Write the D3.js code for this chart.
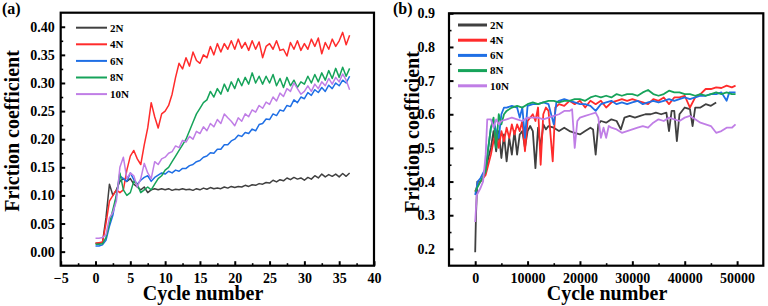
<!DOCTYPE html>
<html>
<head>
<meta charset="utf-8">
<script src="https://cdn.jsdelivr.net/npm/d3@7"></script>
<style>
  body { margin: 0; background: #fff; }
</style>
</head>
<body>
<svg id="chart" width="768" height="306"></svg>
<script>
// ---------------- data ----------------
var loads = ["2N", "4N", "6N", "8N", "10N"];
var colors = ["#404040", "#ff2b2b", "#1f6fe5", "#16a35a", "#c07ee6"];
var FONT = "'Liberation Serif', 'Times New Roman', serif";

// panel (a): cycle number, 0 .. 36.5
var cycA = [0,0.5,1,1.5,2,2.5,3,3.5,4,4.5, 5,5.5,6,6.5,7,7.5,8,8.5,9,9.5,
  10,10.5,11,11.5,12,12.5,13,13.5,14,14.5, 15,15.5,16,16.5,17,17.5,18,18.5,19,19.5,
  20,20.5,21,21.5,22,22.5,23,23.5,24,24.5, 25,25.5,26,26.5,27,27.5,28,28.5,29,29.5,
  30,30.5,31,31.5,32,32.5,33,33.5,34,34.5, 35,35.5,36,36.5];

var a2N = [0.015,0.015,0.016,0.06,0.12,0.10,0.11,0.125,0.13,0.125,
  0.13,0.12,0.115,0.11,0.115,0.105,0.11,0.112,0.11,0.112,
  0.11,0.112,0.109,0.111,0.11,0.112,0.11,0.111,0.109,0.112,
  0.11,0.113,0.111,0.114,0.112,0.113,0.112,0.115,0.113,0.116,
  0.114,0.116,0.115,0.118,0.116,0.119,0.118,0.121,0.12,0.123,
  0.122,0.127,0.124,0.128,0.126,0.131,0.128,0.132,0.129,0.131,
  0.127,0.132,0.129,0.135,0.131,0.138,0.133,0.137,0.134,0.138,
  0.133,0.139,0.134,0.14];
var a4N = [0.015,0.016,0.017,0.05,0.09,0.10,0.11,0.105,0.11,0.145,
  0.17,0.18,0.165,0.155,0.19,0.22,0.265,0.24,0.22,0.245,
  0.25,0.26,0.28,0.31,0.335,0.325,0.345,0.33,0.355,0.34,
  0.335,0.35,0.345,0.365,0.35,0.37,0.355,0.37,0.36,0.375,
  0.36,0.378,0.362,0.372,0.358,0.375,0.36,0.373,0.345,0.365,
  0.37,0.36,0.375,0.358,0.36,0.348,0.372,0.36,0.375,0.358,
  0.37,0.36,0.378,0.365,0.38,0.352,0.372,0.36,0.378,0.365,
  0.375,0.39,0.368,0.385];
var a6N = [0.01,0.01,0.012,0.02,0.045,0.065,0.10,0.135,0.13,0.125,
  0.14,0.128,0.12,0.127,0.132,0.135,0.125,0.132,0.136,0.14,
  0.138,0.143,0.14,0.145,0.143,0.148,0.148,0.153,0.155,0.16,
  0.162,0.168,0.17,0.176,0.175,0.182,0.182,0.19,0.19,0.197,
  0.2,0.207,0.205,0.212,0.21,0.218,0.215,0.226,0.228,0.236,
  0.235,0.245,0.242,0.252,0.25,0.26,0.258,0.27,0.265,0.275,
  0.272,0.283,0.278,0.288,0.283,0.292,0.285,0.296,0.29,0.3,
  0.295,0.305,0.3,0.312];
var a8N = [0.013,0.013,0.014,0.025,0.05,0.075,0.10,0.14,0.11,0.10,
  0.105,0.125,0.12,0.105,0.11,0.115,0.11,0.12,0.13,0.135,
  0.145,0.15,0.16,0.17,0.18,0.19,0.2,0.215,0.23,0.245,
  0.255,0.265,0.27,0.285,0.275,0.29,0.28,0.298,0.285,0.302,
  0.29,0.308,0.295,0.31,0.298,0.318,0.3,0.312,0.298,0.312,
  0.3,0.315,0.295,0.308,0.292,0.31,0.295,0.305,0.292,0.302,
  0.298,0.312,0.3,0.315,0.302,0.318,0.305,0.322,0.308,0.326,
  0.31,0.328,0.312,0.326];
var a10N = [0.024,0.024,0.025,0.03,0.06,0.07,0.09,0.15,0.168,0.13,
  0.14,0.135,0.115,0.13,0.157,0.14,0.13,0.16,0.155,0.165,
  0.168,0.175,0.178,0.188,0.185,0.198,0.195,0.205,0.2,0.214,
  0.21,0.222,0.215,0.228,0.222,0.235,0.228,0.245,0.238,0.232,
  0.224,0.238,0.232,0.245,0.24,0.252,0.248,0.26,0.255,0.266,
  0.262,0.275,0.268,0.282,0.276,0.29,0.285,0.3,0.29,0.28,
  0.285,0.295,0.285,0.298,0.29,0.302,0.295,0.308,0.298,0.31,
  0.302,0.316,0.305,0.288];

// panel (b): [cycle number, friction coefficient]
var b2N = [[0,0.19],[150,0.30],[400,0.40],[1000,0.40],[1500,0.41],[2000,0.43],[2500,0.47],[3000,0.50],[3500,0.55],[4000,0.49],
  [4500,0.55],[5000,0.47],[5500,0.54],[6000,0.46],[6500,0.53],[7000,0.48],[7500,0.55],[8000,0.48],[8500,0.54],[9000,0.55],
  [9500,0.50],[10000,0.55],[10500,0.565],[11000,0.55],[11500,0.44],[12000,0.56],[12500,0.50],[13000,0.57],[13500,0.555],[14000,0.565],
  [15000,0.56],[16000,0.55],[17000,0.56],[18000,0.55],[19000,0.545],[20000,0.54],[21000,0.55],[22000,0.56],[22500,0.555],[23000,0.48],
  [23500,0.57],[24000,0.58],[25000,0.575],[26000,0.585],[27000,0.58],[27800,0.555],[28500,0.59],[29500,0.595],[30500,0.59],[31500,0.595],
  [32500,0.60],[33500,0.60],[34500,0.605],[35500,0.60],[36500,0.605],[37000,0.55],[37500,0.61],[38000,0.61],[38500,0.52],[39000,0.60],
  [40000,0.62],[41000,0.615],[41500,0.565],[42000,0.62],[43000,0.62],[44000,0.63],[45000,0.625],[46000,0.635]];
var b4N = [[0,0.37],[500,0.39],[1000,0.40],[2000,0.42],[2500,0.45],[3000,0.48],[3500,0.52],[4000,0.55],[4500,0.50],[5000,0.55],
  [5500,0.52],[6000,0.56],[6500,0.53],[7000,0.57],[7500,0.54],[8000,0.57],[8500,0.55],[9000,0.58],[9500,0.49],[10000,0.58],
  [11000,0.60],[11500,0.58],[12000,0.62],[12500,0.45],[13000,0.60],[13500,0.62],[14000,0.61],[14800,0.46],[15300,0.62],[16000,0.63],
  [17000,0.625],[18000,0.64],[19000,0.63],[20000,0.64],[21000,0.62],[22000,0.64],[23000,0.63],[24000,0.64],[25000,0.62],[26000,0.635],
  [27000,0.64],[28000,0.645],[29000,0.64],[30000,0.645],[31000,0.64],[32000,0.635],[33000,0.63],[34000,0.645],[35000,0.64],[36000,0.65],
  [37000,0.63],[38000,0.65],[39000,0.65],[40000,0.655],[41000,0.62],[42000,0.65],[43000,0.66],[44000,0.675],[45000,0.675],[46000,0.68],
  [47000,0.678],[48000,0.685],[49000,0.68],[49700,0.685]];
var b6N = [[0,0.36],[500,0.40],[1000,0.41],[2000,0.44],[2500,0.50],[3000,0.56],[3500,0.58],[4000,0.55],[4500,0.53],[5000,0.60],
  [5500,0.62],[6000,0.62],[7000,0.625],[8000,0.62],[8500,0.59],[9000,0.62],[9500,0.53],[10000,0.625],[11000,0.63],[12000,0.63],
  [13000,0.635],[14000,0.63],[15000,0.57],[15500,0.635],[16000,0.64],[17000,0.645],[18000,0.64],[19000,0.635],[20000,0.63],[21000,0.63],
  [22000,0.625],[23000,0.61],[24000,0.63],[25000,0.635],[26000,0.64],[27000,0.63],[28000,0.635],[29000,0.63],[30000,0.635],[31000,0.64],
  [32000,0.63],[33000,0.635],[34000,0.64],[35000,0.635],[36000,0.64],[37000,0.645],[38000,0.64],[39000,0.645],[40000,0.65],[41000,0.645],
  [42000,0.65],[43000,0.655],[44000,0.655],[45000,0.66],[46000,0.66],[47000,0.665],[48000,0.64],[48500,0.665],[49000,0.665],[49700,0.665]];
var b8N = [[0,0.37],[1000,0.40],[2000,0.43],[2500,0.50],[3000,0.56],[3500,0.59],[4000,0.50],[4500,0.60],[5000,0.57],[5500,0.60],
  [6000,0.61],[7000,0.62],[8000,0.625],[9000,0.62],[10000,0.63],[11000,0.635],[12000,0.63],[13000,0.635],[14000,0.64],[15000,0.64],
  [16000,0.635],[17000,0.64],[18000,0.64],[19000,0.645],[20000,0.645],[21000,0.64],[22000,0.65],[23000,0.655],[24000,0.65],[25000,0.655],
  [26000,0.65],[27000,0.66],[28000,0.655],[29000,0.66],[30000,0.66],[31000,0.655],[32000,0.665],[33000,0.672],[34000,0.66],[35000,0.655],
  [36000,0.66],[37000,0.67],[38000,0.665],[39000,0.665],[40000,0.66],[41000,0.66],[42000,0.655],[43000,0.66],[44000,0.655],[45000,0.66],
  [46000,0.665],[47000,0.66],[48000,0.665],[49000,0.66],[49700,0.66]];
var b10N = [[0,0.28],[300,0.36],[1000,0.38],[1500,0.40],[2000,0.48],[2300,0.585],[3000,0.585],[3500,0.56],[4000,0.585],[4500,0.57],
  [5000,0.58],[6000,0.585],[7000,0.59],[8000,0.585],[9000,0.58],[10000,0.59],[11000,0.59],[12000,0.59],[13000,0.585],[14000,0.59],
  [15000,0.595],[16000,0.60],[17000,0.61],[18000,0.61],[18500,0.615],[19000,0.50],[19500,0.58],[20000,0.59],[21000,0.595],[22000,0.60],
  [23000,0.605],[23500,0.59],[24000,0.53],[24500,0.56],[25000,0.53],[25500,0.565],[26000,0.56],[27000,0.555],[28000,0.545],[29000,0.55],
  [30000,0.555],[31000,0.56],[32000,0.565],[33000,0.56],[34000,0.575],[35000,0.585],[36000,0.58],[37000,0.59],[38000,0.585],[39000,0.58],
  [40000,0.59],[41000,0.595],[42000,0.585],[43000,0.575],[44000,0.57],[45000,0.565],[46000,0.545],[47000,0.55],[48000,0.56],[49000,0.56],
  [49700,0.57]];

var seriesA = [a2N, a4N, a6N, a8N, a10N].map(function(ys){
  return ys.map(function(y, i){ return [cycA[i], y]; });
});
var seriesB = [b2N, b4N, b6N, b8N, b10N];

// ---------------- drawing ----------------
var svg = d3.select("#chart");

function styleText(sel, size) {
  sel.attr("font-family", null)
    .style("font-family", FONT)
    .style("font-weight", "bold")
    .style("font-size", size + "px")
    .attr("fill", "#000");
}

function drawPanel(p) {
  var x = d3.scaleLinear().domain(p.xDomain).range([p.left, p.right]);
  var y = d3.scaleLinear().domain(p.yDomain).range([p.bottom, p.top]);
  var g = svg.append("g");

  // minor ticks
  g.append("g").attr("transform", "translate(0," + p.bottom + ")")
    .call(d3.axisBottom(x).tickValues(p.xMinor).tickSize(-2.5).tickFormat(""))
    .call(function(s){ s.select(".domain").remove(); s.selectAll("text").remove(); s.selectAll("line").attr("stroke-width", 1.6); });
  g.append("g").attr("transform", "translate(" + p.left + ",0)")
    .call(d3.axisLeft(y).tickValues(p.yMinor).tickSize(-2.5).tickFormat(""))
    .call(function(s){ s.select(".domain").remove(); s.selectAll("text").remove(); s.selectAll("line").attr("stroke-width", 1.6); });

  // major ticks + labels
  g.append("g").attr("transform", "translate(0," + p.bottom + ")")
    .call(d3.axisBottom(x).tickValues(p.xTicks).tickSize(-4.5).tickPadding(7.5).tickFormat(d3.format("d")))
    .call(function(s){
      s.select(".domain").remove();
      s.selectAll("line").attr("stroke-width", 2);
      styleText(s.selectAll("text"), 14);
    });
  g.append("g").attr("transform", "translate(" + p.left + ",0)")
    .call(d3.axisLeft(y).tickValues(p.yTicks).tickSize(-4.5).tickPadding(p.yPad).tickFormat(d3.format(p.yFmt)))
    .call(function(s){
      s.select(".domain").remove();
      s.selectAll("line").attr("stroke-width", 2);
      styleText(s.selectAll("text"), 14);
    });

  // lines
  var line = d3.line().x(function(d){ return x(d[0]); }).y(function(d){ return y(d[1]); });
  g.append("g").selectAll("path").data(p.series).enter().append("path")
    .attr("d", line)
    .attr("fill", "none")
    .attr("stroke", function(d, i){ return colors[i]; })
    .attr("stroke-width", p.lw)
    .attr("stroke-linejoin", "round");

  // frame
  g.append("rect")
    .attr("x", p.left).attr("y", p.top)
    .attr("width", p.right - p.left).attr("height", p.bottom - p.top)
    .attr("fill", "none").attr("stroke", "#000").attr("stroke-width", 2.2);

  // legend
  var lg = g.append("g");
  loads.forEach(function(name, i){
    var ly = p.legY + i * p.legDy;
    lg.append("line")
      .attr("x1", p.legX).attr("x2", p.legX + p.legLen)
      .attr("y1", ly).attr("y2", ly)
      .attr("stroke", colors[i]).attr("stroke-width", p.legLw);
    lg.append("text")
      .attr("x", p.legX + p.legLen + 3).attr("y", ly).attr("dy", "0.35em")
      .text(name)
      .call(styleText, 11);
  });

  // titles
  g.append("text")
    .attr("x", p.xTitleX).attr("y", 299.5)
    .attr("text-anchor", "middle")
    .text("Cycle number")
    .call(styleText, 20);
  g.append("text")
    .attr("transform", "translate(" + p.yTitleX + "," + p.yTitleY + ") rotate(-90)")
    .attr("text-anchor", "middle")
    .text("Friction coefficient")
    .call(styleText, 20);
  g.append("text")
    .attr("x", p.tagX).attr("y", 14)
    .text(p.tag)
    .call(styleText, 16);
}

drawPanel({
  left: 60.7, right: 374, top: 12.7, bottom: 265.7,
  xDomain: [-5, 40], yDomain: [-0.025, 0.425],
  xTicks: [-5, 0, 5, 10, 15, 20, 25, 30, 35, 40],
  xMinor: [-2.5, 2.5, 7.5, 12.5, 17.5, 22.5, 27.5, 32.5, 37.5],
  yTicks: [0, 0.05, 0.1, 0.15, 0.2, 0.25, 0.3, 0.35, 0.4],
  yMinor: [0.025, 0.075, 0.125, 0.175, 0.225, 0.275, 0.325, 0.375],
  yFmt: ".2f", yPad: 6,
  series: seriesA, lw: 1.5,
  legX: 76, legY: 27.7, legDy: 16.6, legLen: 31, legLw: 2,
  xTitleX: 203, yTitleX: 19, yTitleY: 131,
  tag: "(a)", tagX: 2
});

drawPanel({
  left: 449, right: 763.3, top: 13.3, bottom: 265.7,
  xDomain: [-5000, 55000], yDomain: [0.15, 0.9],
  xTicks: [0, 10000, 20000, 30000, 40000, 50000],
  xMinor: [5000, 15000, 25000, 35000, 45000],
  yTicks: [0.2, 0.3, 0.4, 0.5, 0.6, 0.7, 0.8, 0.9],
  yMinor: [0.25, 0.35, 0.45, 0.55, 0.65, 0.75, 0.85],
  yFmt: ".1f", yPad: 14,
  series: seriesB, lw: 1.8,
  legX: 458, legY: 25, legDy: 15.2, legLen: 29, legLw: 3,
  xTitleX: 607, yTitleX: 419, yTitleY: 132,
  tag: "(b)", tagX: 393
});
</script>
</body>
</html>
